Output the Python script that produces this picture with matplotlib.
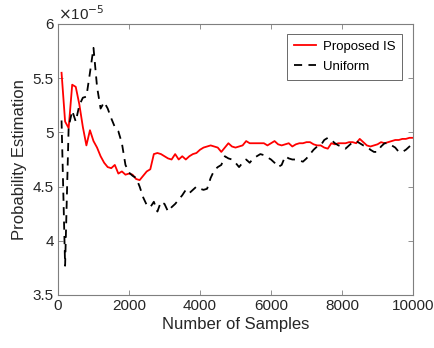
import matplotlib
matplotlib.use("Agg")
import matplotlib.pyplot as plt
import numpy as np

plt.rcParams['font.family'] = ['Liberation Sans', 'DejaVu Sans']

samples = np.arange(100, 10001, 100)

proposed_is = [
    5.55, 5.10, 5.04, 5.44, 5.42, 5.26, 5.05, 4.88, 5.02, 4.92,
    4.86, 4.78, 4.72, 4.68, 4.67, 4.70, 4.62, 4.64, 4.61, 4.62,
    4.61, 4.57, 4.56, 4.60, 4.64, 4.66, 4.80, 4.81, 4.80, 4.78,
    4.76, 4.75, 4.80, 4.75, 4.78, 4.75, 4.78, 4.80, 4.81, 4.84,
    4.86, 4.87, 4.88, 4.87, 4.86, 4.82, 4.86, 4.90, 4.87, 4.86,
    4.87, 4.88, 4.92, 4.90, 4.90, 4.90, 4.90, 4.90, 4.88, 4.90,
    4.92, 4.89, 4.88, 4.89, 4.90, 4.87, 4.89, 4.90, 4.90, 4.91,
    4.91, 4.89, 4.88, 4.88, 4.86, 4.85, 4.90, 4.89, 4.90, 4.90,
    4.90, 4.91, 4.91, 4.90, 4.94, 4.91, 4.88, 4.87, 4.88, 4.89,
    4.91, 4.90, 4.91, 4.92, 4.93, 4.93, 4.94, 4.94, 4.95, 4.95,
]

uniform = [
    5.11, 3.77, 5.05, 5.20, 5.10, 5.25, 5.32, 5.33, 5.55, 5.78,
    5.42, 5.22, 5.28, 5.22, 5.13, 5.05, 5.01, 4.90, 4.70, 4.63,
    4.60, 4.58, 4.50, 4.40, 4.33, 4.31, 4.36, 4.27, 4.36, 4.34,
    4.27, 4.31, 4.34, 4.38, 4.42, 4.47, 4.44, 4.47, 4.50, 4.48,
    4.47, 4.48, 4.58, 4.65, 4.68, 4.70, 4.78, 4.76, 4.75, 4.72,
    4.68, 4.72, 4.75, 4.72, 4.76, 4.78, 4.80, 4.79, 4.77, 4.75,
    4.72, 4.68, 4.70, 4.78, 4.76, 4.75, 4.75, 4.74, 4.73, 4.76,
    4.80, 4.84, 4.87, 4.88, 4.93, 4.95, 4.93, 4.90, 4.88, 4.87,
    4.85, 4.88, 4.91, 4.92, 4.90, 4.88, 4.87, 4.84, 4.82, 4.82,
    4.87, 4.90, 4.90, 4.88, 4.86, 4.82, 4.82, 4.84, 4.87, 4.90,
]

xticks = [0, 2000, 4000, 6000, 8000, 10000]
yticks = [3.5, 4, 4.5, 5, 5.5, 6]

fig = plt.figure(figsize=(4.35, 3.48), dpi=100)
ax = fig.add_axes([58/435, 1 - 295/348, (413-58)/435, (295-24)/348])

ax.plot(samples, proposed_is, color='#ff0000', lw=1.3, label='Proposed IS')
ax.plot(samples, uniform, color='black', lw=1.3, ls=(0, (4.5, 3.5)), label='Uniform')

ax.set_xlim(0, 10000)
ax.set_ylim(3.5, 6)
ax.set_xticks(xticks)
ax.set_yticks(yticks)
ax.set_xticklabels([f'{t:g}' for t in xticks])
ax.set_yticklabels([f'{t:g}' for t in yticks])

gray = '#262626'
for s in ax.spines.values():
    s.set_color('#7f7f7f')
    s.set_linewidth(0.8)
ax.tick_params(direction='in', top=True, right=True, length=3.5, width=0.6,
               color='#7f7f7f', labelcolor=gray, labelsize=11, pad=3)

ax.set_xlabel('Number of Samples', fontsize=12, color=gray, labelpad=3)
ax.set_ylabel('Probability Estimation', fontsize=12, color=gray, labelpad=4)
ax.text(0.0, 1.005, r'$\times$10$^{-5}$', transform=ax.transAxes, ha='left', va='bottom',
        fontsize=11, color=gray)

leg = ax.legend(loc='upper right', fontsize=9.5, frameon=True, fancybox=False,
                edgecolor='#262626', borderpad=0.5, handlelength=1.7,
                handletextpad=0.5, bbox_to_anchor=(0.987, 0.987), labelspacing=0.6)
leg.get_frame().set_linewidth(0.6)
for t in leg.get_texts():
    t.set_color('black')

fig.savefig('out.png', dpi=100)
